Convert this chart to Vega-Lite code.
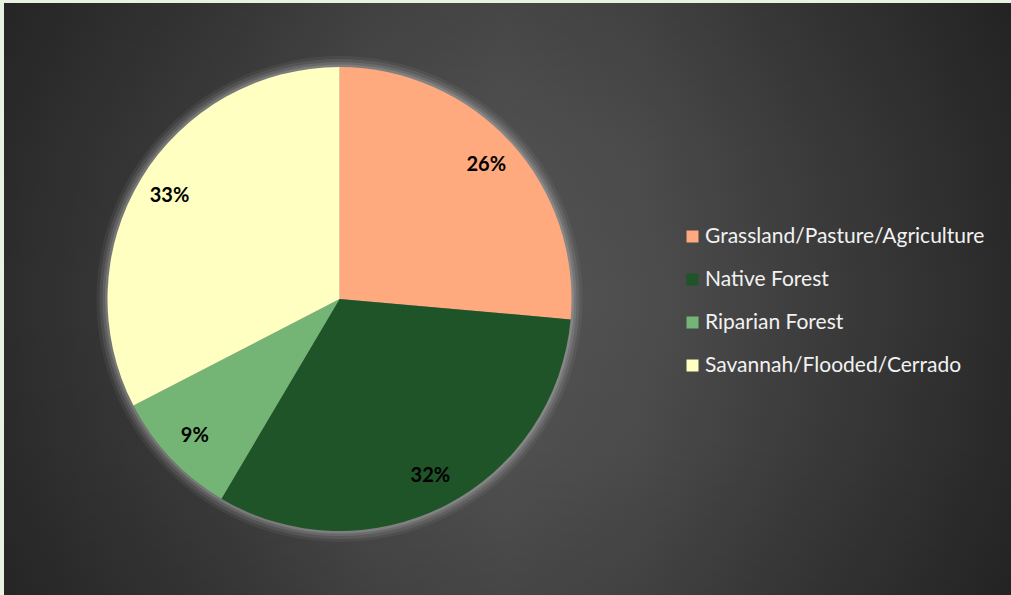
{
  "$schema": "https://vega.github.io/schema/vega-lite/v6.json",
  "padding": {"top": 3, "left": 4, "right": 0, "bottom": 0},
  "background": "#e8f2e0",
  "spacing": 0,
  "data": {
    "values": [
      {"category": "Grassland/Pasture/Agriculture", "share": 0.264},
      {"category": "Native Forest", "share": 0.321},
      {"category": "Riparian Forest", "share": 0.089},
      {"category": "Savannah/Flooded/Cerrado", "share": 0.326}
    ]
  },
  "hconcat": [
    {
      "width": 671,
      "height": 592,
      "layer": [
        {
          "data": {"values": [{"panel": "chart area"}]},
          "mark": {
            "type": "rect",
            "fill": {
              "gradient": "linear",
              "x1": -0.00596, "y1": 0, "x2": 1.50075, "y2": 0,
              "stops": [
                {"offset": 0, "color": "#2c2c2c"},
                {"offset": 0.1, "color": "#353535"},
                {"offset": 0.208, "color": "#3e3e3e"},
                {"offset": 0.366, "color": "#4e4e4e"},
                {"offset": 0.5, "color": "#545454"},
                {"offset": 0.633, "color": "#4e4e4e"},
                {"offset": 0.791, "color": "#3e3e3e"},
                {"offset": 0.9, "color": "#343434"},
                {"offset": 1, "color": "#2a2a2a"}
              ]
            }
          },
          "encoding": {}
        },
        {
          "data": {"values": [{"panel": "chart area"}]},
          "mark": {
            "type": "rect",
            "fill": {
              "gradient": "linear",
              "x1": 0, "y1": 0, "x2": 0, "y2": 1,
              "stops": [
                {"offset": 0, "color": "rgba(0,0,0,0.17)"},
                {"offset": 0.25, "color": "rgba(0,0,0,0.05)"},
                {"offset": 0.5, "color": "rgba(0,0,0,0)"},
                {"offset": 0.75, "color": "rgba(0,0,0,0.05)"},
                {"offset": 1, "color": "rgba(0,0,0,0.17)"}
              ]
            }
          },
          "encoding": {}
        },
        {
          "data": {"values": [{"ring": 1}]},
          "mark": {"type": "arc", "radius": 243, "fill": "#ffffff", "opacity": 0.05},
          "encoding": {}
        },
        {
          "data": {"values": [{"ring": 1}]},
          "mark": {"type": "arc", "radius": 240, "fill": "#ffffff", "opacity": 0.08},
          "encoding": {}
        },
        {
          "data": {"values": [{"ring": 1}]},
          "mark": {"type": "arc", "radius": 237, "fill": "#ffffff", "opacity": 0.1},
          "encoding": {}
        },
        {
          "data": {"values": [{"ring": 1}]},
          "mark": {"type": "arc", "radius": 234.5, "fill": "#ffffff", "opacity": 0.14},
          "encoding": {}
        },
        {
          "mark": {"type": "arc", "radius": 232, "strokeWidth": 0},
          "encoding": {
            "theta": {"field": "share", "type": "quantitative", "stack": true},
            "order": {"field": "category", "type": "ordinal"},
            "color": {
              "field": "category",
              "type": "nominal",
              "scale": {
                "domain": ["Grassland/Pasture/Agriculture", "Native Forest", "Riparian Forest", "Savannah/Flooded/Cerrado"],
                "range": ["#FFA97F", "#1E5428", "#74B474", "#FFFFC2"]
              },
              "legend": {
                "title": null,
                "orient": "none",
                "legendX": 678,
                "legendY": 223,
                "symbolType": "square",
                "symbolSize": 144,
                "symbolStrokeWidth": 0,
                "symbolOpacity": 1,
                "labelFont": "Lato",
                "labelFontSize": 21,
                "labelColor": "#f2f2f2",
                "labelOffset": 2,
                "labelLimit": 500,
                "rowPadding": 21,
                "padding": 0
              }
            }
          }
        },
        {
          "mark": {"type": "text", "radius": 199, "font": "Lato", "fontWeight": "bold", "fontSize": 20, "color": "#000000"},
          "encoding": {
            "theta": {"field": "share", "type": "quantitative", "stack": true},
            "order": {"field": "category", "type": "ordinal"},
            "text": {"field": "share", "type": "quantitative", "format": ".0%"}
          }
        }
      ]
    },
    {
      "width": 336,
      "height": 592,
      "layer": [
        {
          "data": {"values": [{"panel": "chart area"}]},
          "mark": {
            "type": "rect",
            "fill": {
              "gradient": "linear",
              "x1": -2.0089, "y1": 0, "x2": 1.0, "y2": 0,
              "stops": [
                {"offset": 0, "color": "#2c2c2c"},
                {"offset": 0.1, "color": "#353535"},
                {"offset": 0.208, "color": "#3e3e3e"},
                {"offset": 0.366, "color": "#4e4e4e"},
                {"offset": 0.5, "color": "#545454"},
                {"offset": 0.633, "color": "#4e4e4e"},
                {"offset": 0.791, "color": "#3e3e3e"},
                {"offset": 0.9, "color": "#343434"},
                {"offset": 1, "color": "#2a2a2a"}
              ]
            }
          },
          "encoding": {}
        },
        {
          "data": {"values": [{"panel": "chart area"}]},
          "mark": {
            "type": "rect",
            "fill": {
              "gradient": "linear",
              "x1": 0, "y1": 0, "x2": 0, "y2": 1,
              "stops": [
                {"offset": 0, "color": "rgba(0,0,0,0.17)"},
                {"offset": 0.25, "color": "rgba(0,0,0,0.05)"},
                {"offset": 0.5, "color": "rgba(0,0,0,0)"},
                {"offset": 0.75, "color": "rgba(0,0,0,0.05)"},
                {"offset": 1, "color": "rgba(0,0,0,0.17)"}
              ]
            }
          },
          "encoding": {}
        }
      ]
    }
  ],
  "config": {
    "view": {"stroke": null},
    "concat": {"spacing": 0}
  }
}
